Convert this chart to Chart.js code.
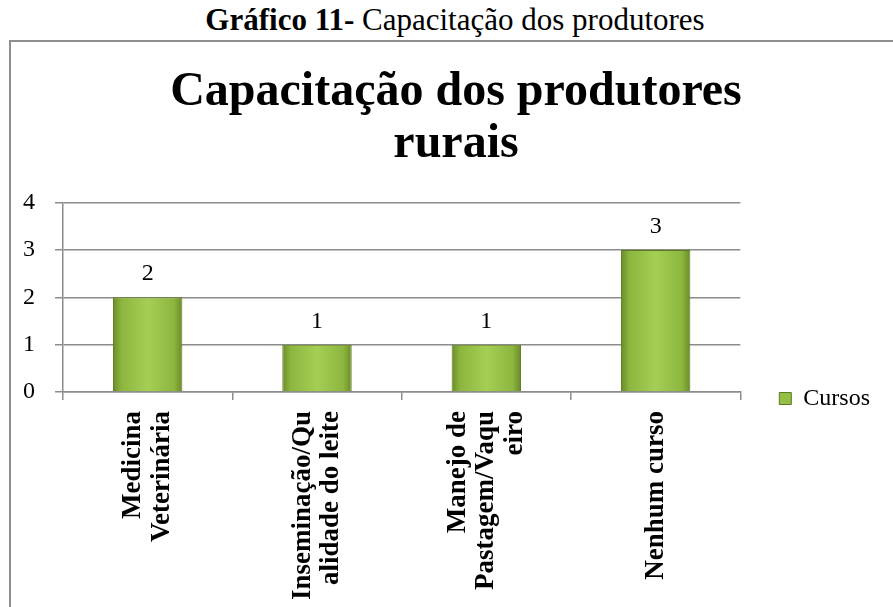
<!DOCTYPE html>
<html>
<head>
<meta charset="utf-8">
<script src="https://cdn.jsdelivr.net/npm/chart.js@4/dist/chart.umd.min.js"></script>
<style>
  html, body { margin: 0; padding: 0; background: #fff; overflow: hidden; width: 893px; height: 607px; }
  #caption { position: absolute; left: 0; top: 0; width: 910px; height: 40px; line-height: 40px; text-align: center;
             font-family: "Liberation Serif", "Times New Roman", serif; font-size: 31px; color: #000; white-space: nowrap; }
  #frame { position: absolute; left: 9px; top: 40px; width: 960px; height: 620px; border: 2px solid #8f8f8f; box-sizing: border-box; }
  #wrap { position: absolute; left: 0px; top: 0px; width: 945px; height: 573px; }
</style>
</head>
<body>
<div id="caption"><b>Gráfico 11-</b> Capacitação dos produtores</div>
<div id="frame"><div id="wrap"><canvas id="c"></canvas></div></div>
<script>
const chartTitle = ["Capacitação dos produtores", "rurais"];
const categories = [
  ["Medicina", "Veterinária"],
  ["Inseminação/Qu", "alidade do leite"],
  ["Manejo de", "Pastagem/Vaqu", "eiro"],
  ["Nenhum curso"]
];
const seriesName = "Cursos";
const cursos = [2, 1, 1, 3];
const yTicks = [0, 1, 2, 3, 4];

const FONT = '"Liberation Serif", "Times New Roman", serif';
const BAR_PCT = 0.41;
const TARGET_LEFT = 52;     // plot-area left edge, canvas px
let titleCentre = 445;      // title centre, canvas px

function barFill(ctx) {
  const chart = ctx.chart;
  const xs = chart.scales && chart.scales.x;
  if (!xs || !chart.chartArea || ctx.dataIndex === undefined) return '#94bf45';
  const cx = xs.getPixelForValue(ctx.dataIndex);
  const half = (xs.width / categories.length) * BAR_PCT / 2;
  const g = chart.ctx.createLinearGradient(cx - half, 0, cx + half, 0);
  g.addColorStop(0, '#6a8a28');
  g.addColorStop(0.12, '#8cb63e');
  g.addColorStop(0.5, '#a4cf54');
  g.addColorStop(0.88, '#8cb63e');
  g.addColorStop(1, '#6a8a28');
  return g;
}

const valueLabels = {
  id: 'valueLabels',
  afterDatasetsDraw(chart) {
    const ctx = chart.ctx;
    const meta = chart.getDatasetMeta(0);
    ctx.save();
    ctx.font = '24px ' + FONT;
    ctx.fillStyle = '#000';
    ctx.textAlign = 'center';
    ctx.textBaseline = 'alphabetic';
    meta.data.forEach((el, i) => {
      ctx.fillText(String(cursos[i]), el.x, el.y - 17);
    });
    ctx.restore();
  }
};

// centre multi-line rotated category labels on their ticks
const centreLabels = {
  id: 'centreLabels',
  beforeDraw(chart) {
    const xs = chart.scales.x;
    const items = xs.getLabelItems();
    items.forEach(it => {
      if (it._centred) return;
      const n = Array.isArray(it.label) ? it.label.length : 1;
      it.options.translation[0] -= (n - 1) * it.font.lineHeight / 2;
      it._centred = true;
    });
  }
};

// legend level with the base of the plot; title centred on the whole frame
const placeBlocks = {
  id: 'placeBlocks',
  afterLayout(chart) {
    const L = chart.legend;
    if (L) { L.top += 62; L.bottom += 62; }
    const T = chart.titleBlock;
    if (T) {
      const w = T.right - T.left;
      T.left = titleCentre - w / 2;
      T.right = titleCentre + w / 2;
    }
  }
};

const pad = { left: 2, right: 76, top: 20, bottom: 4 };

const chart = new Chart(document.getElementById('c'), {
  type: 'bar',
  data: {
    labels: categories,
    datasets: [{
      label: seriesName,
      data: cursos,
      backgroundColor: barFill,
      borderColor: '#5d7a22',
      borderWidth: 1,
      barPercentage: BAR_PCT,
      categoryPercentage: 1.0
    }]
  },
  options: {
    responsive: true,
    maintainAspectRatio: false,
    animation: false,
    layout: { padding: Object.assign({}, pad) },
    plugins: {
      title: {
        display: true,
        text: chartTitle,
        color: '#000',
        font: { family: FONT, size: 48, weight: 'bold', lineHeight: 1.08 },
        padding: { top: 5, bottom: 32 }
      },
      legend: {
        position: 'right',
        align: 'center',
        labels: {
          color: '#000',
          font: { family: FONT, size: 24 },
          boxWidth: 12,
          boxHeight: 12,
          padding: 39,
          generateLabels(chart) {
            return [{
              text: seriesName,
              fillStyle: '#94bf45',
              strokeStyle: '#5d7a22',
              lineWidth: 1,
              datasetIndex: 0
            }];
          }
        }
      },
      tooltip: { enabled: false }
    },
    scales: {
      x: {
        offset: true,
        grid: { offset: true, drawOnChartArea: false, drawTicks: true, tickLength: 8, color: '#8c8c8c', lineWidth: 1.5 },
        border: { display: true, color: '#8c8c8c', width: 1.5 },
        ticks: {
          autoSkip: false,
          minRotation: 90,
          maxRotation: 90,
          padding: 11,
          color: '#000',
          font: { family: FONT, size: 27, weight: 'bold', lineHeight: 1.06 }
        }
      },
      y: {
        min: 0,
        max: 4,
        afterBuildTicks(scale) { scale.ticks = yTicks.map(v => ({ value: v })); },
        grid: { drawTicks: true, tickLength: 8, color: '#8c8c8c', lineWidth: 1.5 },
        border: { display: true, color: '#8c8c8c', width: 1.5 },
        ticks: {
          padding: 20,
          color: '#000',
          font: { family: FONT, size: 24 }
        }
      }
    }
  },
  plugins: [valueLabels, centreLabels, placeBlocks]
});

// pin the plot area's left edge to the original position
for (let i = 0; i < 6; i++) {
  const d = TARGET_LEFT - chart.chartArea.left;
  if (Math.abs(d) < 0.5) break;
  pad.left += d;
  chart.options.layout.padding = Object.assign({}, pad);
  chart.update('none');
}
const r = TARGET_LEFT - chart.chartArea.left;
if (Math.abs(r) >= 0.5) {
  // the layout would not move further: shift the canvas instead and compensate on the right
  document.getElementById('wrap').style.left = r + 'px';
  pad.right += r;
  titleCentre = 445 - r;
  chart.options.layout.padding = Object.assign({}, pad);
  chart.update('none');
}
</script>
</body>
</html>
